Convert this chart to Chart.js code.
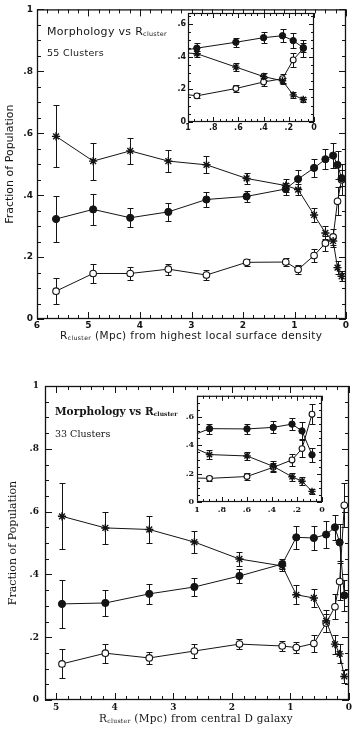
<!DOCTYPE html>
<html><head><meta charset="utf-8">
<script src="https://cdn.jsdelivr.net/npm/chart.js@4.4.1/dist/chart.umd.min.js"></script>
<style>
html,body{margin:0;padding:0;background:#fff;}
body{width:356px;height:729px;position:relative;overflow:hidden;}
.c{position:absolute;}
.txt{position:absolute;white-space:nowrap;color:#161616;line-height:1;}
.sans{font-family:"DejaVu Sans",sans-serif;}
.serif{font-family:"DejaVu Serif",serif;}
sub{font-size:58%;vertical-align:baseline;position:relative;top:0.2em;}
</style></head><body>
<canvas class="c" id="m1" width="356" height="345" style="left:0;top:0"></canvas>
<canvas class="c" id="i1" width="150" height="132" style="left:170px;top:5px"></canvas>
<canvas class="c" id="m2" width="356" height="364" style="left:0;top:365px"></canvas>
<canvas class="c" id="i2" width="150" height="132" style="left:178px;top:388px"></canvas>

<div class="txt sans" style="left:47px;top:26px;font-size:11px;letter-spacing:0.3px">Morphology vs R<sub>cluster</sub></div>
<div class="txt sans" style="left:47px;top:48px;font-size:9.5px;letter-spacing:0.3px">55 Clusters</div>
<div class="txt sans" style="left:60px;top:330px;font-size:10.5px;letter-spacing:0.4px">R<sub>cluster</sub> (Mpc) from highest local surface density</div>

<div class="txt serif" style="left:55px;top:406px;font-size:10.5px;font-weight:bold">Morphology vs R<sub>cluster</sub></div>
<div class="txt serif" style="left:55px;top:429px;font-size:9.5px">33 Clusters</div>
<div class="txt serif" style="left:99px;top:713px;font-size:10.5px;letter-spacing:0.3px">R<sub>cluster</sub> (Mpc) from central D galaxy</div>

<script>
// ---------- DATA: 55 clusters, R from highest local surface density ----------
const r55 = [5.63, 4.91, 4.19, 3.45, 2.71, 1.93, 1.17, 0.93, 0.62, 0.40, 0.25, 0.165, 0.085];
const spiral55 = [0.590, 0.510, 0.543, 0.510, 0.498, 0.454, 0.431, 0.418, 0.336, 0.278, 0.252, 0.166, 0.138];
const spiralErr55 = [0.100, 0.060, 0.042, 0.035, 0.028, 0.018, 0.020, 0.019, 0.024, 0.021, 0.020, 0.020, 0.016];
const s0_55 = [0.323, 0.354, 0.327, 0.346, 0.386, 0.396, 0.420, 0.452, 0.488, 0.516, 0.528, 0.498, 0.455];
const s0Err55 = [0.075, 0.050, 0.031, 0.028, 0.024, 0.019, 0.019, 0.029, 0.029, 0.032, 0.040, 0.045, 0.027];
const e55 = [0.090, 0.147, 0.147, 0.161, 0.142, 0.183, 0.184, 0.160, 0.205, 0.245, 0.265, 0.380, 0.450];
const eErr55 = [0.042, 0.032, 0.020, 0.018, 0.016, 0.012, 0.012, 0.016, 0.020, 0.024, 0.027, 0.045, 0.050];

// ---------- DATA: 33 clusters, R from central D galaxy ----------
const r33 = [4.90, 4.16, 3.41, 2.64, 1.87, 1.14, 0.90, 0.60, 0.39, 0.24, 0.16, 0.08];
const spiral33 = [0.585, 0.548, 0.543, 0.503, 0.449, 0.427, 0.335, 0.325, 0.252, 0.178, 0.147, 0.075];
const spiralErr33 = [0.105, 0.050, 0.043, 0.036, 0.023, 0.017, 0.030, 0.030, 0.035, 0.030, 0.030, 0.020];
const s0_33 = [0.306, 0.309, 0.338, 0.360, 0.395, 0.433, 0.518, 0.516, 0.527, 0.550, 0.502, 0.333];
const s0Err33 = [0.076, 0.041, 0.033, 0.028, 0.021, 0.015, 0.036, 0.037, 0.043, 0.040, 0.060, 0.048];
const e33 = [0.115, 0.149, 0.134, 0.156, 0.178, 0.172, 0.167, 0.180, 0.245, 0.297, 0.377, 0.620];
const eErr33 = [0.046, 0.030, 0.019, 0.021, 0.017, 0.017, 0.017, 0.027, 0.030, 0.040, 0.060, 0.070];

// ---------- TICKS ----------
const mainYTicks = [0, 0.2, 0.4, 0.6, 0.8, 1];
const mainYLabels = ['0', '.2', '.4', '.6', '.8', '1'];
const top55XTicks = [6, 5, 4, 3, 2, 1, 0];
const top55XLabels = ['6', '5', '4', '3', '2', '1', '0'];
const bot33XTicks = [5, 4, 3, 2, 1, 0];
const bot33XLabels = ['5', '4', '3', '2', '1', '0'];
const insetXTicks = [1, 0.8, 0.6, 0.4, 0.2, 0];
const insetXLabels = ['1', '.8', '.6', '.4', '.2', '0'];
const insetYTicks = [0, 0.2, 0.4, 0.6];
const insetYLabels = ['0', '.2', '.4', '.6'];

const INK = '#141414';

const errorBars = {
  id: 'errorBars',
  beforeDatasetsDraw(chart, args, o) {
    const {ctx, chartArea: a, scales: {x, y}} = chart;
    ctx.save();
    ctx.beginPath(); ctx.rect(a.left, a.top, a.right - a.left, a.bottom - a.top); ctx.clip();
    ctx.strokeStyle = INK; ctx.lineWidth = 1;
    chart.data.datasets.forEach(ds => {
      if (!ds.errors) return;
      ds.data.forEach((p, i) => {
        const px = Math.round(x.getPixelForValue(p.x)) + 0.5;
        if (px < a.left - 2 || px > a.right + 2) return;
        const y1 = Math.round(y.getPixelForValue(p.y + ds.errors[i])) + 0.5;
        const y2 = Math.round(y.getPixelForValue(p.y - ds.errors[i])) + 0.5;
        const c = o.cap;
        ctx.beginPath();
        ctx.moveTo(px, y1); ctx.lineTo(px, y2);
        ctx.moveTo(px - c, y1); ctx.lineTo(px + c, y1);
        ctx.moveTo(px - c, y2); ctx.lineTo(px + c, y2);
        ctx.stroke();
      });
    });
    ctx.restore();
  }
};

const frameTicks = {
  id: 'frameTicks',
  beforeDatasetsDraw(chart, args, o) {
    const {ctx, chartArea: a, scales: {x, y}} = chart;
    ctx.save();
    ctx.strokeStyle = INK; ctx.lineWidth = o.frameWidth;
    ctx.strokeRect(a.left + 0.5, a.top + 0.5, a.right - a.left - 1, a.bottom - a.top - 1);
    ctx.lineWidth = 1;
    const isMul = (v, s) => Math.abs(v / s - Math.round(v / s)) < 1e-6;
    const xlo = Math.min(x.min, x.max), xhi = Math.max(x.min, x.max);
    ctx.beginPath();
    for (let k = 0; k * o.xMinor <= xhi + 1e-9; k++) {
      const v = k * o.xMinor; if (v < xlo - 1e-9) continue;
      const len = isMul(v, o.xMajor) ? o.majorLen : o.minorLen;
      const px = Math.round(x.getPixelForValue(v)) + 0.5;
      ctx.moveTo(px, a.bottom); ctx.lineTo(px, a.bottom - len);
      ctx.moveTo(px, a.top); ctx.lineTo(px, a.top + len);
    }
    for (let k = 0; k * o.yMinor <= y.max + 1e-9; k++) {
      const v = k * o.yMinor;
      const len = isMul(v, o.yMajor) ? o.majorLen : o.minorLen;
      const py = Math.round(y.getPixelForValue(v)) + 0.5;
      ctx.moveTo(a.left, py); ctx.lineTo(a.left + len, py);
      ctx.moveTo(a.right, py); ctx.lineTo(a.right - len, py);
    }
    ctx.stroke();
    ctx.restore();
  }
};

const whiteArea = {
  id: 'whiteArea',
  beforeDraw(chart, args, o) {
    if (!o.on) return;
    const {ctx, chartArea: a} = chart;
    ctx.save(); ctx.fillStyle = '#fff';
    ctx.fillRect(a.left, a.top, a.right - a.left, a.bottom - a.top);
    ctx.restore();
  }
};

function series(xs, ys, errs, kind, rad) {
  const st = {
    star: {pointStyle: 'star', pointRadius: rad + 0.5, pointBorderWidth: 1.4, pointBackgroundColor: INK},
    filled: {pointStyle: 'circle', pointRadius: rad, pointBorderWidth: 1, pointBackgroundColor: INK},
    open: {pointStyle: 'circle', pointRadius: rad - 0.3, pointBorderWidth: 1.1, pointBackgroundColor: '#fff'}
  }[kind];
  return Object.assign({
    data: xs.map((x, i) => ({x, y: ys[i]})),
    errors: errs,
    showLine: true,
    borderColor: INK, borderWidth: 1,
    pointBorderColor: INK, pointHoverRadius: 0
  }, st);
}

function build(id, cfg) {
  const fam = cfg.family;
  return new Chart(document.getElementById(id), {
    type: 'scatter',
    data: {datasets: [
      series(cfg.xs, cfg.spiral, cfg.spiralErr, 'star', cfg.rad),
      series(cfg.xs, cfg.s0, cfg.s0Err, 'filled', cfg.rad),
      series(cfg.xs, cfg.e, cfg.eErr, 'open', cfg.rad)
    ]},
    options: {
      responsive: false, animation: false, devicePixelRatio: 1,
      layout: {padding: cfg.pad},
      events: [],
      plugins: {
        legend: {display: false}, tooltip: {enabled: false},
        errorBars: {cap: cfg.cap},
        whiteArea: {on: cfg.white},
        frameTicks: Object.assign({frameWidth: cfg.frameWidth}, cfg.frame)
      },
      scales: {
        x: {
          type: 'linear', reverse: true, min: cfg.xmin, max: cfg.xmax,
          grid: {display: false, drawTicks: false}, border: {display: false},
          ticks: {color: INK, padding: cfg.xPad, maxRotation: 0, autoSkip: false,
                  font: {family: fam, size: cfg.tickSize, weight: cfg.tickWeight},
                  callback: (v, i) => cfg.xLabels[i]},
          afterBuildTicks: s => { s.ticks = cfg.xTicks.map(v => ({value: v})); },
          afterFit: s => { s.height = cfg.xH; }
        },
        y: {
          type: 'linear', min: 0, max: cfg.ymax,
          grid: {display: false, drawTicks: false}, border: {display: false},
          ticks: {color: INK, padding: cfg.yPad, autoSkip: false,
                  font: {family: fam, size: cfg.tickSize, weight: cfg.tickWeight},
                  callback: (v, i) => cfg.yLabels[i]},
          title: cfg.yTitle ? {display: true, text: cfg.yTitle, color: INK,
                  font: {family: fam, size: 11}, padding: {top: cfg.yTitlePad, bottom: 0}} : {display: false},
          afterBuildTicks: s => { s.ticks = cfg.yTicks.map(v => ({value: v})); },
          afterFit: s => { s.width = cfg.yW; }
        }
      }
    },
    plugins: [whiteArea, frameTicks, errorBars]
  });
}

const mainFrame = {xMajor: 1, xMinor: 0.2, yMajor: 0.2, yMinor: 0.05, majorLen: 7, minorLen: 4};
const insetFrame = {xMajor: 0.2, xMinor: 0.05, yMajor: 0.2, yMinor: 0.05, majorLen: 5, minorLen: 3};

// top main
build('m1', {family: '"DejaVu Sans", sans-serif', xs: r55, spiral: spiral55, spiralErr: spiralErr55,
  s0: s0_55, s0Err: s0Err55, e: e55, eErr: eErr55, rad: 3.6, cap: 3,
  pad: {left: 0, right: 10, top: 6, bottom: 0}, xmin: 0, xmax: 6, ymax: 1,
  xTicks: top55XTicks, xLabels: top55XLabels, yTicks: mainYTicks, yLabels: mainYLabels,
  xH: 26, yW: 37, xPad: 1, yPad: 4, tickSize: 9, tickWeight: 'bold',
  yTitle: 'Fraction of Population', yTitlePad: 4, white: false, frameWidth: 1.3, frame: mainFrame});
// top inset
build('i1', {family: '"DejaVu Sans", sans-serif', xs: r55, spiral: spiral55, spiralErr: spiralErr55,
  s0: s0_55, s0Err: s0Err55, e: e55, eErr: eErr55, rad: 3.2, cap: 3,
  pad: {left: 0, right: 6, top: 8, bottom: 0}, xmin: 0, xmax: 1, ymax: 0.667,
  xTicks: insetXTicks, xLabels: insetXLabels, yTicks: insetYTicks, yLabels: insetYLabels,
  xH: 15, yW: 18, xPad: 1, yPad: 2, tickSize: 8, tickWeight: 'bold',
  yTitle: null, white: true, frameWidth: 1.2, frame: insetFrame});
// bottom main
build('m2', {family: '"DejaVu Serif", serif', xs: r33, spiral: spiral33, spiralErr: spiralErr33,
  s0: s0_33, s0Err: s0Err33, e: e33, eErr: eErr33, rad: 3.6, cap: 3,
  pad: {left: 0, right: 7, top: 21, bottom: 0}, xmin: 0, xmax: 5.19, ymax: 1,
  xTicks: bot33XTicks, xLabels: bot33XLabels, yTicks: mainYTicks, yLabels: mainYLabels,
  xH: 29, yW: 45, xPad: 2, yPad: 6, tickSize: 9, tickWeight: 'bold',
  yTitle: 'Fraction of Population', yTitlePad: 7, white: false, frameWidth: 1.3, frame: mainFrame});
// bottom inset
build('i2', {family: '"DejaVu Serif", serif', xs: r33, spiral: spiral33, spiralErr: spiralErr33,
  s0: s0_33, s0Err: s0Err33, e: e33, eErr: eErr33, rad: 3.2, cap: 3,
  pad: {left: 0, right: 6, top: 7, bottom: 0}, xmin: 0, xmax: 1, ymax: 0.75,
  xTicks: insetXTicks, xLabels: insetXLabels, yTicks: insetYTicks, yLabels: insetYLabels,
  xH: 18, yW: 19, xPad: 3, yPad: 3, tickSize: 8, tickWeight: 'bold',
  yTitle: null, white: true, frameWidth: 1.2, frame: insetFrame});
</script>
</body></html>
